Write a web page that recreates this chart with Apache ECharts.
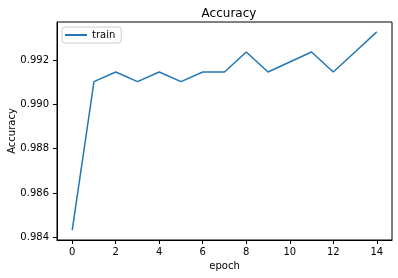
<!DOCTYPE html>
<html><head><meta charset="utf-8">
<script src="https://cdn.jsdelivr.net/npm/echarts@6/dist/echarts.min.js"></script>
<style>html,body{margin:0;padding:0;background:#fff}#c{width:398px;height:278px}</style>
</head><body><div id="c"></div>
<script>
const epochs = [0,1,2,3,4,5,6,7,8,9,10,11,12,13,14];
const trainAcc = [0.98432,0.99103,0.99147,0.99103,0.99147,0.99103,0.99147,0.99147,0.99237,0.99147,0.99192,0.99237,0.99147,0.99237,0.99328];
const xTicks = [0,2,4,6,8,10,12,14];
const yTicks = [0.984,0.986,0.988,0.990,0.992];

const dMin = Math.min(...trainAcc), dMax = Math.max(...trainAcc);
const pad = (dMax - dMin) * 0.05;
const xPad = (epochs[epochs.length-1] - epochs[0]) * 0.05;
const F = 'DejaVu Sans';
const chart = echarts.init(document.getElementById('c'), null, {renderer:'canvas'});
chart.setOption({
  animation:false,
  title:{text:'Accuracy', left:224, top:3, textAlign:'center',
    textStyle:{fontFamily:F, fontSize:12, fontWeight:'normal', color:'#000'}},
  legend:{show:true, left:62, top:27, orient:'vertical', padding:[3,6,3,3],
    borderColor:'#ccc', borderWidth:1, borderRadius:3, icon:'rect', itemWidth:22, itemHeight:2, itemGap:4,
    textStyle:{fontFamily:F, fontSize:10, color:'#000'}, data:['train']},
  grid:{left:57, right:6, top:22, bottom:38, show:true, borderColor:'#000', borderWidth:1,
    containLabel:false, outerBoundsMode:'none'},
  xAxis:{type:'value', min:epochs[0]-xPad, max:epochs[epochs.length-1]+xPad,
    name:'epoch', nameLocation:'middle', nameGap:21, nameMoveOverlap:false,
    nameTextStyle:{fontFamily:F, fontSize:10, color:'#000'},
    axisLine:{show:true, onZero:false, lineStyle:{color:'#000', width:1}},
    axisTick:{show:true, length:4, customValues:xTicks, lineStyle:{color:'#000'}},
    axisLabel:{customValues:xTicks, margin:7, fontFamily:F, fontSize:10, color:'#000'},
    splitLine:{show:false}},
  yAxis:{type:'value', min:dMin-pad, max:dMax+pad,
    name:'Accuracy', nameLocation:'middle', nameGap:40, nameMoveOverlap:false,
    nameTextStyle:{fontFamily:F, fontSize:10, color:'#000'},
    axisLine:{show:true, onZero:false, lineStyle:{color:'#000', width:1}},
    axisTick:{show:true, length:4, customValues:yTicks, lineStyle:{color:'#000'}},
    axisLabel:{customValues:yTicks, margin:8, fontFamily:F, fontSize:10, color:'#000',
      formatter:v=>v.toFixed(3)},
    splitLine:{show:false}},
  series:[{name:'train', type:'line', data:epochs.map((e,i)=>[e,trainAcc[i]]),
    symbol:'none', color:'#1f77b4', lineStyle:{width:1.5, color:'#1f77b4'}}]
});
</script></body></html>
